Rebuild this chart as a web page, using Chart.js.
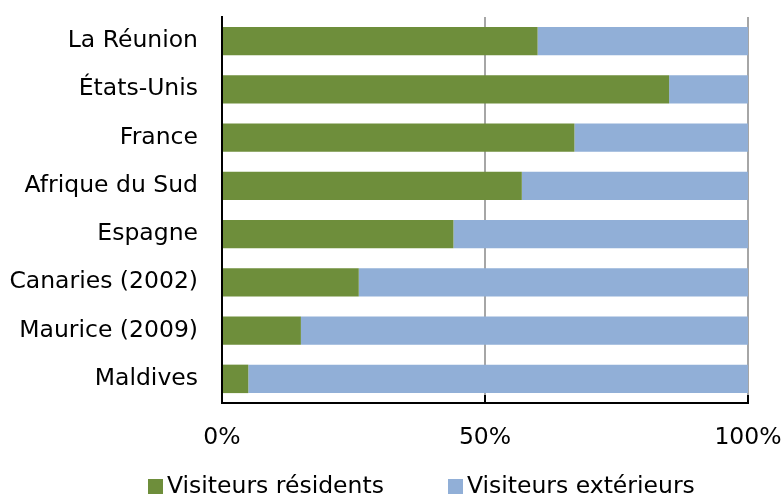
<!DOCTYPE html>
<html>
<head>
<meta charset="utf-8">
<script src="https://cdn.jsdelivr.net/npm/chart.js@4/dist/chart.umd.min.js"></script>
<style>
  html, body { margin: 0; padding: 0; background: #fff; }
  #wrap { position: relative; width: 784px; height: 496px; }
  #legend {
    position: absolute; left: 148px; top: 470px;
    display: flex; align-items: center;
    font-family: 'DejaVu Sans', Verdana, sans-serif; font-size: 23.5px; color: #000;
    line-height: 30px;
  }
  .item { display: flex; align-items: center; margin-right: 64px; }
  .box { width: 15px; height: 15px; margin-right: 4px; margin-top: 3px; }
</style>
</head>
<body>
<div id="wrap"><canvas id="chart"></canvas><div id="legend"></div></div>
<script>
// Part des visiteurs résidents / extérieurs
const countries = ['La Réunion', 'États-Unis', 'France', 'Afrique du Sud', 'Espagne', 'Canaries (2002)', 'Maurice (2009)', 'Maldives'];
const residents = [60, 85, 67, 57, 44, 26, 15, 5];
const exterieurs = [40, 15, 33, 43, 56, 74, 85, 95];
const xTicks = [0, 50, 100];

const FONT = 'DejaVu Sans, Verdana, sans-serif';

// small inward tick marks on the bottom axis
const innerTicks = {
    id: 'innerTicks',
    afterDatasetsDraw(chart) {
        const x = chart.scales.x;
        const ctx = chart.ctx;
        ctx.save();
        ctx.strokeStyle = '#000';
        ctx.lineWidth = 2;
        xTicks.forEach(function(v) {
            let px = Math.round(x.getPixelForValue(v));
            ctx.beginPath();
            ctx.moveTo(px, x.top - 8);
            ctx.lineTo(px, x.top);
            ctx.stroke();
        });
        ctx.restore();
    }
};

let chart = new Chart(document.getElementById('chart'), {
    type: 'bar',
    data: {
        labels: countries,
        datasets: [{
            label: 'Visiteurs résidents',
            data: residents,
            backgroundColor: '#6e8e3b',
            borderWidth: 0,
            categoryPercentage: 1,
            barPercentage: 0.59
        }, {
            label: 'Visiteurs extérieurs',
            data: exterieurs,
            backgroundColor: '#91afd7',
            borderWidth: 0,
            categoryPercentage: 1,
            barPercentage: 0.59
        }]
    },
    options: {
        indexAxis: 'y',
        responsive: true,
        maintainAspectRatio: false,
        animation: false,
        layout: { padding: { top: 17, right: 36, left: 0, bottom: 47 } },
        scales: {
            x: {
                stacked: true,
                min: 0,
                max: 100,
                afterBuildTicks(scale) { scale.ticks = xTicks.map(v => ({ value: v })); },
                afterFit(scale) {
                    scale.height = 46;
                    scale.paddingLeft = 0;
                    scale.paddingRight = 0;
                },
                grid: { color: '#a6a6a6', lineWidth: 2, drawTicks: false },
                border: { color: '#000', width: 2 },
                ticks: {
                    color: '#000',
                    padding: 21,
                    maxRotation: 0,
                    font: { family: FONT, size: 23.5 },
                    callback: v => v + '%'
                }
            },
            y: {
                stacked: true,
                afterFit(scale) {
                    scale.width = 222;
                    scale.paddingTop = 0;
                    scale.paddingBottom = 0;
                },
                grid: { display: false, drawTicks: false },
                border: { color: '#000', width: 2 },
                ticks: {
                    color: '#000',
                    padding: 24,
                    font: { family: FONT, size: 23.5 }
                }
            }
        },
        plugins: {
            legend: { display: false },
            tooltip: { enabled: false }
        }
    },
    plugins: [innerTicks]
});

// legend drawn as html below the chart
let legend = document.getElementById('legend');
chart.data.datasets.forEach(function(ds) {
    legend.insertAdjacentHTML('beforeend',
        `<div class="item"><span class="box" style="background:${ds.backgroundColor}"></span><span>${ds.label}</span></div>`);
});
</script>
</body>
</html>
